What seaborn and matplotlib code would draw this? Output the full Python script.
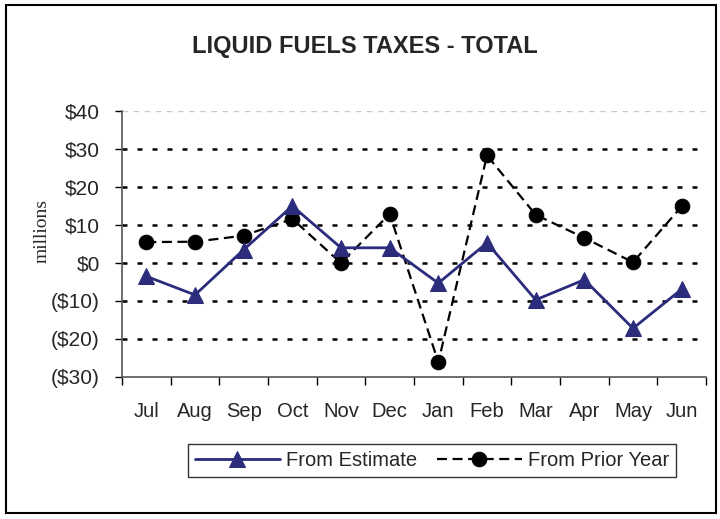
import matplotlib
matplotlib.use("Agg")
import matplotlib.pyplot as plt
import seaborn as sns
import pandas as pd
from matplotlib.ticker import FuncFormatter, FixedLocator
from matplotlib.patches import Rectangle

months = ["Jul", "Aug", "Sep", "Oct", "Nov", "Dec", "Jan", "Feb", "Mar", "Apr", "May", "Jun"]
from_estimate = [-3.5, -8.4, 3.5, 15.0, 4.0, 4.0, -5.3, 5.3, -9.7, -4.4, -17.2, -6.9]
from_prior_year = [5.5, 5.6, 7.2, 11.6, 0.0, 12.9, -26.1, 28.3, 12.7, 6.6, 0.2, 14.9]
y_ticks = [-30, -20, -10, 0, 10, 20, 30, 40]

df = pd.DataFrame({"month": months, "est": from_estimate, "prior": from_prior_year})

sns.set_style("white")
plt.rcParams["font.family"] = ["Liberation Sans", "DejaVu Sans"]

fig = plt.figure(figsize=(7.2, 5.19), dpi=100)
ax = fig.add_axes([122 / 720, 1 - 377 / 519, 584 / 720, 266 / 519])

navy = "#2B2C7C"
sns.lineplot(data=df, x="month", y="est", ax=ax, color=navy, lw=2,
             marker="^", markersize=11, markeredgecolor=navy, markerfacecolor=navy,
             sort=False, label="From Estimate", zorder=4)
sns.lineplot(data=df, x="month", y="prior", ax=ax, color="black", lw=1.6,
             marker="o", markersize=10.5, markeredgecolor="black", markerfacecolor="black",
             sort=False, label="From Prior Year", zorder=3)
ax.lines[1].set_dashes([4.5, 2.5])

ax.set_xlim(-0.5, 11.5)
ax.set_ylim(-30, 40)
ax.set_yticks(y_ticks)

def fmt(v, pos):
    v = int(round(v))
    return f"(${abs(v)})" if v < 0 else f"${v}"

ax.yaxis.set_major_formatter(FuncFormatter(fmt))

# gridlines
for yv in y_ticks[1:-1]:
    ax.axhline(yv, color="black", lw=1.8, linestyle=(0, (2.0, 4.0)), zorder=1)
ax.axhline(40, color="#c8c8c8", lw=1.0, linestyle=(0, (4, 4)), zorder=1)

ax.set_xticks(range(len(months)))
ax.set_xticklabels(months)
ax.xaxis.set_minor_locator(FixedLocator([i - 0.5 for i in range(len(months) + 1)]))
ax.tick_params(axis="x", which="major", length=0, pad=18, labelsize=14.5)
ax.tick_params(axis="x", which="minor", length=6, width=1, direction="out", color="black", bottom=True)
ax.tick_params(axis="y", length=5, width=1, direction="out", color="black", left=True, labelsize=15, pad=11)

for s in ["top", "right"]:
    ax.spines[s].set_visible(False)
for s in ["left", "bottom"]:
    ax.spines[s].set_color("#555555")
    ax.spines[s].set_linewidth(1.2)

ax.set_xlabel("")
ax.set_ylabel("")
fig.text(42 / 720, 1 - 231 / 519, "millions", rotation=90, ha="center", va="center",
         fontsize=14, family=["Liberation Serif", "DejaVu Serif"])
fig.text(365 / 720, 1 - 47 / 519, "LIQUID FUELS TAXES - TOTAL", ha="center", va="center",
         fontsize=17, fontweight="bold")

ax.get_legend().remove()
handles, labels = ax.get_legend_handles_labels()
leg = fig.legend(handles, labels, loc="center", bbox_to_anchor=(432 / 720, 1 - 460.5 / 519),
                 ncol=2, frameon=True, fancybox=False, shadow=False, fontsize=14.5,
                 handlelength=4.2, handletextpad=0.3, columnspacing=1.0, borderpad=0.35)
leg.get_frame().set_edgecolor("black")
leg.get_frame().set_linewidth(1.0)

fig.patches.append(Rectangle((6 / 720, 6 / 519), 710 / 720, 508 / 519, transform=fig.transFigure,
                             fill=False, edgecolor="black", lw=1.5, figure=fig))

fig.savefig("out.png", dpi=100)
